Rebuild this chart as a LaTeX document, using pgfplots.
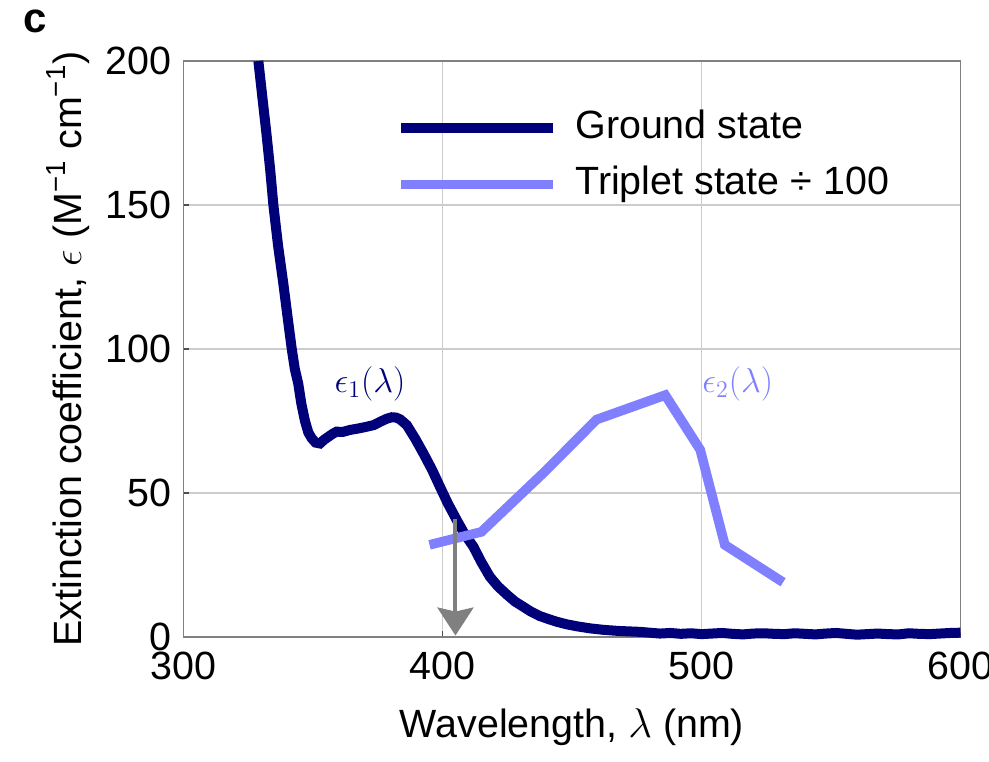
\documentclass[border=0pt]{standalone}
\usepackage{pgfplots}
\pgfplotsset{compat=1.18}
\usepackage{fontspec}
\setmainfont{Liberation Sans}
\usetikzlibrary{arrows.meta}
\definecolor{navy}{RGB}{0,0,120}
\definecolor{lightblue}{RGB}{128,128,255}
\definecolor{axgray}{RGB}{128,128,128}
\begin{document}
\begin{tikzpicture}[font=\fontsize{19.7pt}{23.6pt}\selectfont]
\begin{axis}[name=ax, width=388.5pt, height=288pt, scale only axis,
 xmin=300, xmax=600, ymin=0, ymax=200,
 xtick={300,400,500,600}, ytick={0,50,100,150,200},
 /pgf/number format/assume math mode=true,
 grid=major, grid style={line width=0.6pt, color=black!20},
 axis line style={line width=0.9pt, color=axgray},
 tick align=inside, major tick length=3pt, tick style={line width=0.9pt, color=black!70},
 xtick pos=bottom, ytick pos=left,
 xticklabel style={yshift=-4pt}, yticklabel style={xshift=-2.7pt},
 xlabel={Wavelength, $\lambda$ (nm)},
 ylabel={Extinction coefficient, $\epsilon$ (M\textsuperscript{−1} cm\textsuperscript{−1})},
 xlabel style={at={(axis description cs:0.5,-0.1753)}, anchor=base},
 ylabel style={at={(axis description cs:-0.1319,0.5)}, anchor=base},
 clip=false,
 legend style={at={(axis description cs:0.2735,0.915)}, anchor=north west, draw=none, fill=none, inner sep=0pt, row sep=10pt, nodes={inner sep=0pt, text height=14pt, text depth=4pt}, /tikz/every odd column/.append style={column sep=8.5pt}},
 legend image code/.code={\draw[#1] (0pt,0pt) -- (76pt,0pt);},
 legend cell align=left,
]
\addplot[navy, line width=5pt] table {
328.9 200
330.5 187
332 175
333.5 162
334.7 150
336.5 136
338.5 123
340.2 111
341.8 100
343 93
344.3 88
345.5 81
346.9 75
348.2 71
349.5 69
351 67.5
352.7 67.2
354.3 68.5
355.9 69.5
357.5 70.5
359.1 71.3
361.5 71.2
364.3 71.9
367.5 72.4
370.7 73
373.5 73.6
376.1 74.8
378.5 75.8
380.4 76.3
382 76.2
383.6 75.6
386.2 73.6
389.5 68.8
392.6 63.8
396 58
399 52.2
402 46.5
405.5 40.6
408.5 35.8
411.9 31.4
415 26
418.3 20.9
421.5 17.5
425 14.6
428 12.3
431.2 10.5
434 8.9
437.5 7.3
441 6.2
444.1 5.3
448 4.4
452 3.7
457 3
462 2.5
468 2.1
476 1.8
480 1.5
484 1.2
488 1.4
492 1.1
496 1.3
500 1.0
504 1.2
508 1.4
512 1.1
516 0.9
520 1.2
524 1.3
528 1.1
532 1.0
536 1.3
540 1.1
544 0.9
548 1.2
552 1.4
556 1.1
560 0.8
564 1.0
568 1.2
572 1.0
576 0.9
580 1.3
584 1.1
588 1.0
592 1.2
596 1.4
600 1.5
};
\addlegendentry{Ground state}
\addplot[lightblue, line width=4.8pt] table {
395 32
415 36.5
439 57
459.5 75.5
486 84
499.5 65
509 32
531.5 19
};
\addlegendentry{Triplet state ÷ 100}
\node[navy, font=\fontsize{17pt}{20pt}\selectfont] at (axis cs:372,88) {$\epsilon_1(\lambda)$};
\node[lightblue, font=\fontsize{17pt}{20pt}\selectfont] at (axis cs:514,88) {$\epsilon_2(\lambda)$};
\draw[-{Stealth[width=18pt,length=14pt,inset=2pt]}, line width=2pt, axgray] (axis cs:405,41) -- (axis cs:405,0.5);
\end{axis}
\node[anchor=base, font=\bfseries\fontsize{21pt}{25pt}\selectfont] at ([xshift=-74.25pt,yshift=14.5pt]ax.north west) {c};
\pgfresetboundingbox
\path ([xshift=-91.75pt,yshift=-62pt]ax.south west) rectangle ([xshift=14.25pt,yshift=30.5pt]ax.north east);
\end{tikzpicture}
\end{document}
